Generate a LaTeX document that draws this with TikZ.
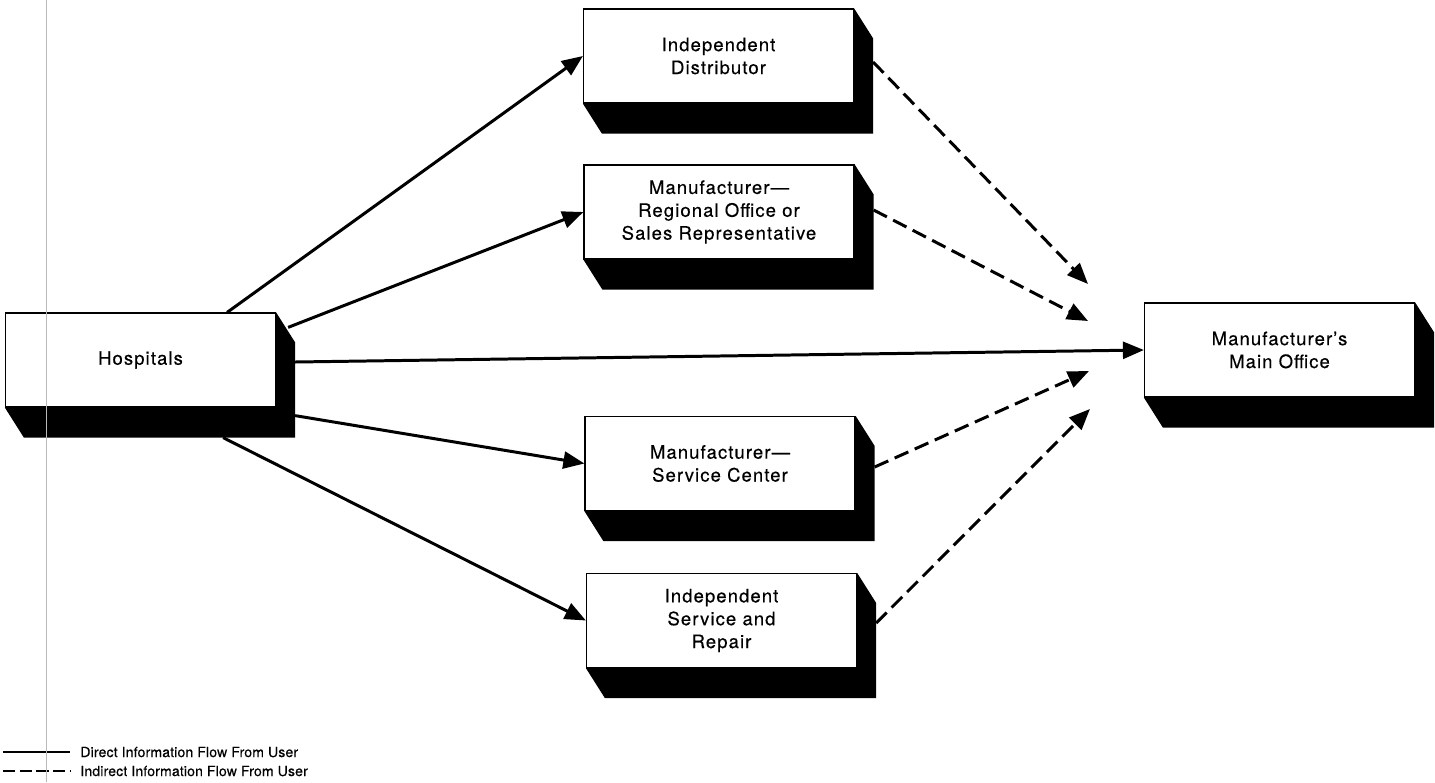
\documentclass[tikz,border=0pt]{standalone}
\usepackage{fontspec}
\setmainfont{TeX Gyre Heros}[LetterSpace=6, FakeBold=0.35]
\usetikzlibrary{positioning, arrows.meta, calc}

% extruded black side of a block
\newcommand{\blkshadow}[1]{%
  \fill (#1.north east) -- ++(0.38,-0.6) -- ($(#1.south east)+(0.38,-0.6)$)
    -- ($(#1.south west)+(0.38,-0.6)$) -- (#1.south west) -- (#1.south east) -- cycle;}

\begin{document}
\begin{tikzpicture}[
  every node/.style={font=\fontsize{10.5}{13}\selectfont},
  blk/.style={draw, line width=0.7pt, fill=white, minimum width=5.4cm,
              minimum height=1.88cm, align=center, inner sep=2pt},
  arr/.style={-{Triangle[length=0.42cm, width=0.34cm]}, line width=1.7pt},
  darr/.style={arr, dash pattern=on 8.5pt off 4pt},
  legline/.style={line width=1.1pt},
  legtext/.style={anchor=west, inner sep=0pt,
                  font=\fontsize{8}{10}\selectfont\addfontfeatures{LetterSpace=1}}
]
\useasboundingbox (0,0) rectangle (28.7,-15.64);

%% Blocks
\node[blk] (hosp) at (2.81,-7.20) {Hospitals};
\node[blk] (dist) at (14.37,-1.12) {Independent\\Distributor};
\node[blk] (reg)  at (14.38,-4.24) {Manufacturer---\\Regional Office or\\Sales Representative};
\node[blk] (svc)  at (14.40,-9.27) {Manufacturer---\\Service Center};
\node[blk] (isr)  at (14.43,-12.41) {Independent\\Service and\\Repair};
\node[blk] (main) at (25.59,-7.00) {Manufacturer's\\Main Office};

\blkshadow{hosp}
\blkshadow{dist}
\blkshadow{reg}
\blkshadow{svc}
\blkshadow{isr}
\blkshadow{main}

%% ---- Direct flow ----
\draw[arr] ($(hosp.north east)+(-0.98,0)$) -- (dist.west);
\draw[arr] ($(hosp.north east)+(0.24,-0.30)$) -- (reg.west);
\draw[arr] ($(hosp.east)+(0.38,-0.04)$) -- (main.west);
\draw[arr] ($(hosp.south east)+(0.38,-0.16)$) -- (svc.west);
\draw[arr] ($(hosp.south east)+(-1.06,-0.60)$) -- (isr.west);

%% ---- Indirect flow (ends short of main office) ----
\coordinate (in1) at (21.76,-5.68);
\coordinate (in2) at (21.76,-6.42);
\coordinate (in3) at (21.78,-7.42);
\coordinate (in4) at (21.80,-8.18);
\draw[darr] ($(dist.east)+(0.38,-0.12)$) -- (in1);
\draw[darr] ($(reg.east)+(0.38,0.04)$) -- (in2);
\draw[darr] ($(svc.east)+(0.38,-0.07)$) -- (in3);
\draw[darr] ($(isr.east)+(0.38,-0.05)$) -- (in4);

%% ---- Legend ----
\coordinate (l1) at (0.06,-15.04);
\coordinate (l2) at (0.06,-15.42);
\draw[legline] (l1) -- ++(1.34,0);
\draw[legline, dash pattern=on 7pt off 2.5pt] (l2) -- ++(1.34,0);
\node[legtext] (leg1) at (1.6,-15.04) {Direct Information Flow From User};
\node[legtext] (leg2) at (1.6,-15.42) {Indirect Information Flow From User};

%% scan line at left margin
\draw[gray!55, line width=0.4pt] (0.92,0) -- (0.92,-15.64);

\end{tikzpicture}
\end{document}
